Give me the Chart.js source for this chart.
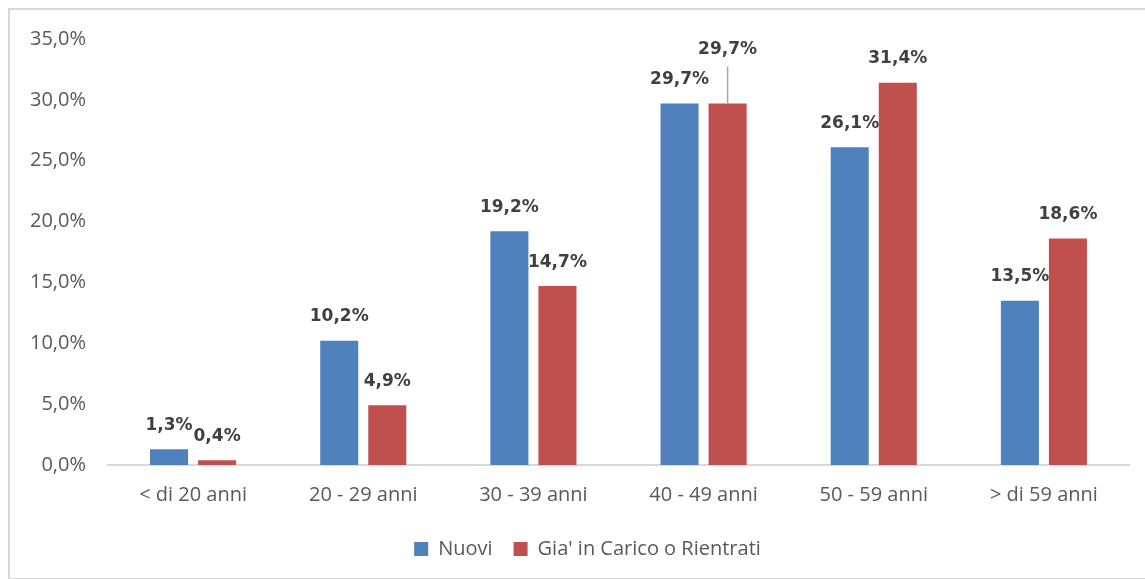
<!DOCTYPE html>
<html>
<head>
<meta charset="utf-8">
<script src="https://cdn.jsdelivr.net/npm/chart.js@4.4.1/dist/chart.umd.min.js"></script>
<style>
  html, body { margin: 0; padding: 0; background: #fff; overflow: hidden; }
  #frame { position: absolute; left: 8px; top: 8px; width: 1200px; height: 568px; border: 2px solid #d9d9d9; }
  #wrap { position: absolute; left: 0; top: 0; width: 1145px; height: 579px; }
</style>
</head>
<body>
<div id="frame"></div>
<div id="wrap"><canvas id="myChart" width="1145" height="579"></canvas></div>
<script>
var categories = ['< di 20 anni', '20 - 29 anni', '30 - 39 anni', '40 - 49 anni', '50 - 59 anni', '> di 59 anni']
var nuovi = [1.3, 10.2, 19.2, 29.7, 26.1, 13.5]
var inCarico = [0.4, 4.9, 14.7, 29.7, 31.4, 18.6]
var yTicks = [0, 5, 10, 15, 20, 25, 30, 35]

function fmt(v) {
    return v.toFixed(1).replace('.', ',') + '%'
}

// labels above bars, one of them lifted with a leader line (like the Excel chart)
var lifted = { '1-3': 30 }
var barLabels = {
    id: 'barLabels',
    afterLayout: function(chart) {
        // excel centres the legend in the whole frame, which is wider than the plot
        chart.legend.left += 23
        chart.legend.right += 23
    },
    afterDatasetsDraw: function(chart) {
        var ctx = chart.ctx
        ctx.save()
        ctx.font = 'bold 17px "DejaVu Sans"'
        ctx.fillStyle = '#404040'
        ctx.textAlign = 'center'
        ctx.textBaseline = 'middle'
        chart.data.datasets.forEach(function(ds, di) {
            chart.getDatasetMeta(di).data.forEach(function(bar, i) {
                var extra = lifted[di + '-' + i] || 0
                var y = bar.y - 24 - extra
                if (extra) {
                    ctx.strokeStyle = '#a6a6a6'
                    ctx.lineWidth = 1.5
                    ctx.beginPath()
                    ctx.moveTo(bar.x, y + 17)
                    ctx.lineTo(bar.x, bar.y)
                    ctx.stroke()
                }
                ctx.fillText(fmt(ds.data[i]), bar.x, y)
            })
        })
        ctx.restore()
    }
}

var myChart = document.getElementById('myChart').getContext('2d')
var chart = new Chart(myChart, {
    type: 'bar',
    data: {
        labels: categories,
        datasets: [{
            label: 'Nuovi',
            data: nuovi,
            backgroundColor: '#4F81BD'
        }, {
            label: "Gia' in Carico o Rientrati",
            data: inCarico,
            backgroundColor: '#C0504D'
        }]
    },
    options: {
        responsive: false,
        animation: false,
        layout: { padding: { left: 0, right: 16, top: 39, bottom: 10 } },
        datasets: {
            bar: { categoryPercentage: 0.5647, barPercentage: 0.7917 }
        },
        scales: {
            x: {
                grid: { display: false, drawTicks: false },
                border: { display: true, color: '#d9d9d9', width: 2 },
                ticks: { color: '#595959', font: { family: 'Open Sans', size: 20 }, padding: 18, maxRotation: 0 },
                afterFit: function(scale) { scale.height = 53 }
            },
            y: {
                min: 0,
                max: 35,
                grid: { display: false, drawTicks: false },
                border: { display: false },
                afterBuildTicks: function(scale) {
                    scale.ticks = yTicks.map(function(v) { return { value: v } })
                },
                ticks: {
                    color: '#595959',
                    font: { family: 'Open Sans', size: 20 },
                    padding: 22,
                    callback: function(v) { return fmt(v) }
                },
                afterFit: function(scale) { scale.width = 108 }
            }
        },
        plugins: {
            legend: {
                position: 'bottom',
                labels: {
                    color: '#595959',
                    font: { family: 'Open Sans', size: 20 },
                    boxWidth: 14,
                    boxHeight: 14,
                    padding: 21
                }
            },
            tooltip: { enabled: false }
        }
    },
    plugins: [barLabels]
})
</script>
</body>
</html>
